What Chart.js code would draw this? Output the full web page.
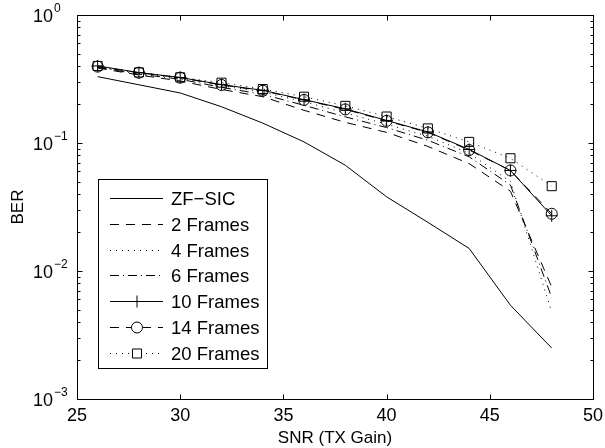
<!DOCTYPE html>
<html>
<head>
<meta charset="utf-8">
<script src="https://cdn.jsdelivr.net/npm/chart.js@4/dist/chart.umd.min.js"></script>
<style>
  body { margin: 0; background: #fff; }
  canvas { display: block; }
</style>
</head>
<body>
<canvas id="myChart" width="605" height="448"></canvas>
<script>
'use strict'
// SNR values (TX gain) where BER was measured
const snr = [26, 28, 30, 32, 34, 36, 38, 40, 42, 44, 46, 48];

const zfSic    = [0.33, 0.285, 0.246, 0.192, 0.143, 0.102, 0.067, 0.038, 0.024, 0.015, 0.0054, 0.0025];
const frames2  = [0.385, 0.34, 0.305, 0.262, 0.23, 0.18, 0.145, 0.121, 0.094, 0.069, 0.042, 0.0075];
const frames4  = [0.395, 0.35, 0.32, 0.28, 0.25, 0.21, 0.172, 0.14, 0.113, 0.083, 0.05, 0.0048];
const frames6  = [0.39, 0.345, 0.315, 0.272, 0.24, 0.197, 0.16, 0.132, 0.105, 0.078, 0.047, 0.0062];
const frames10 = [0.40, 0.355, 0.325, 0.286, 0.258, 0.218, 0.185, 0.150, 0.122, 0.089, 0.061, 0.027];
const frames14 = [0.395, 0.354, 0.324, 0.284, 0.256, 0.217, 0.183, 0.149, 0.121, 0.088, 0.061, 0.028];
const frames20 = [0.40, 0.356, 0.326, 0.296, 0.264, 0.23, 0.195, 0.161, 0.13, 0.102, 0.076, 0.046];

const seriesNames = ['ZF\u2212SIC', '2 Frames', '4 Frames', '6 Frames', '10 Frames', '14 Frames', '20 Frames'];

const xTicks = [25, 30, 35, 40, 45, 50];
const yDecades = [0, -1, -2, -3];
const xTitle = 'SNR (TX Gain)';
const yTitle = 'BER';

const FONT = '17px "Liberation Sans", Arial, Helvetica, sans-serif';
const LEGEND_FONT = '18.5px "Liberation Sans", Arial, Helvetica, sans-serif';
const TICK_FONT = '18px "Liberation Sans", Arial, Helvetica, sans-serif';
const SUP_FONT = '12px "Liberation Sans", Arial, Helvetica, sans-serif';

function points(values) {
    return snr.map((x, i) => ({x: x, y: values[i]}));
}

function lineSet(label, values, dash, marker, radius) {
    return {
        label: label,
        data: points(values),
        borderColor: '#000',
        borderWidth: 1,
        borderDash: dash,
        backgroundColor: 'rgba(0,0,0,0)',
        pointStyle: marker || 'circle',
        pointRadius: marker ? radius : 0,
        pointHoverRadius: marker ? radius : 0,
        pointBorderColor: '#000',
        pointBackgroundColor: 'rgba(0,0,0,0)',
        pointBorderWidth: 1,
        tension: 0,
        fill: false
    };
}

const dashed = [9, 7];
const dotted = [1, 5];
const dashDot = [9, 4, 1, 4];

// axes box, inward ticks, labels and legend drawn MATLAB style
const matlabAxes = {
    id: 'matlabAxes',
    afterDraw(chart) {
        const ctx = chart.ctx;
        const area = chart.chartArea;
        const xs = chart.scales.x;
        const ys = chart.scales.y;
        ctx.save();
        ctx.strokeStyle = '#000';
        ctx.fillStyle = '#000';
        ctx.lineWidth = 1;
        ctx.setLineDash([]);

        const L = Math.round(area.left) + 0.5, R = Math.round(area.right) + 0.5;
        const T = Math.round(area.top) + 0.5, B = Math.round(area.bottom) + 0.5;
        ctx.strokeRect(L, T, R - L, B - T);

        // x ticks
        ctx.beginPath();
        for (let v of xTicks) {
            const px = Math.round(xs.getPixelForValue(v)) + 0.5;
            ctx.moveTo(px, B); ctx.lineTo(px, B - 5);
            ctx.moveTo(px, T); ctx.lineTo(px, T + 5);
        }
        // y ticks, major and minor
        for (let d of yDecades) {
            const py = Math.round(ys.getPixelForValue(Math.pow(10, d))) + 0.5;
            ctx.moveTo(L, py); ctx.lineTo(L + 5, py);
            ctx.moveTo(R, py); ctx.lineTo(R - 5, py);
            if (d > -3) {
                for (let m = 2; m <= 9; m++) {
                    const my = Math.round(ys.getPixelForValue(m * Math.pow(10, d - 1))) + 0.5;
                    ctx.moveTo(L, my); ctx.lineTo(L + 3, my);
                    ctx.moveTo(R, my); ctx.lineTo(R - 3, my);
                }
            }
        }
        ctx.stroke();

        // x tick labels
        ctx.font = TICK_FONT;
        ctx.textAlign = 'center';
        ctx.textBaseline = 'middle';
        for (let v of xTicks) {
            ctx.fillText(String(v), xs.getPixelForValue(v), B + 17);
        }
        // y tick labels 10^n
        for (let d of yDecades) {
            const py = ys.getPixelForValue(Math.pow(10, d));
            ctx.font = TICK_FONT;
            ctx.textAlign = 'left';
            ctx.fillText('10', 33, py + 2);
            const w = ctx.measureText('10').width;
            ctx.font = SUP_FONT;
            ctx.fillText(d === 0 ? '0' : '\u2212' + (-d), 33 + w + 1, py - 6);
        }
        // titles
        ctx.font = FONT;
        ctx.textAlign = 'center';
        ctx.fillText(xTitle, (area.left + area.right) / 2, B + 39);
        ctx.save();
        ctx.translate(18, (area.top + area.bottom) / 2);
        ctx.rotate(-Math.PI / 2);
        ctx.fillText(yTitle, 0, 0);
        ctx.restore();

        // legend
        const box = {left: 98.5, top: 179.5, width: 169, height: 189};
        ctx.fillStyle = '#fff';
        ctx.fillRect(box.left, box.top, box.width, box.height);
        ctx.strokeRect(box.left, box.top, box.width, box.height);
        chart.data.datasets.forEach((ds, i) => {
            const y = Math.round(197.7 + i * 25.9) + 0.5;
            ctx.setLineDash(ds.borderDash || []);
            ctx.beginPath();
            ctx.moveTo(110, y);
            ctx.lineTo(163, y);
            ctx.stroke();
            ctx.setLineDash([]);
            if (ds.pointRadius > 0) {
                ctx.fillStyle = '#fff';
                Chart.helpers.drawPoint(ctx, {
                    pointStyle: ds.pointStyle,
                    radius: ds.pointRadius,
                    borderWidth: 1,
                    rotation: 0
                }, 137, y);
            }
            ctx.fillStyle = '#000';
            ctx.font = LEGEND_FONT;
            ctx.textAlign = 'left';
            ctx.fillText(ds.label, 171, y + 1);
        });
        ctx.restore();
    }
};

const ctx = document.getElementById('myChart').getContext('2d');
const myChart = new Chart(ctx, {
    type: 'line',
    data: {
        datasets: [
            lineSet(seriesNames[0], zfSic, []),
            lineSet(seriesNames[1], frames2, dashed),
            lineSet(seriesNames[2], frames4, dotted),
            lineSet(seriesNames[3], frames6, dashDot),
            lineSet(seriesNames[4], frames10, [], 'cross', 6),
            lineSet(seriesNames[5], frames14, dashed, 'circle', 5.5),
            lineSet(seriesNames[6], frames20, dotted, 'rect', 6.4)
        ]
    },
    options: {
        responsive: false,
        animation: false,
        devicePixelRatio: 1,
        layout: {padding: {left: 77, right: 12, top: 15, bottom: 49}},
        plugins: {legend: {display: false}, tooltip: {enabled: false}},
        scales: {
            x: {type: 'linear', min: 25, max: 50, display: false},
            y: {type: 'logarithmic', min: 0.001, max: 1, display: false}
        }
    },
    plugins: [matlabAxes]
});
</script>
</body>
</html>
